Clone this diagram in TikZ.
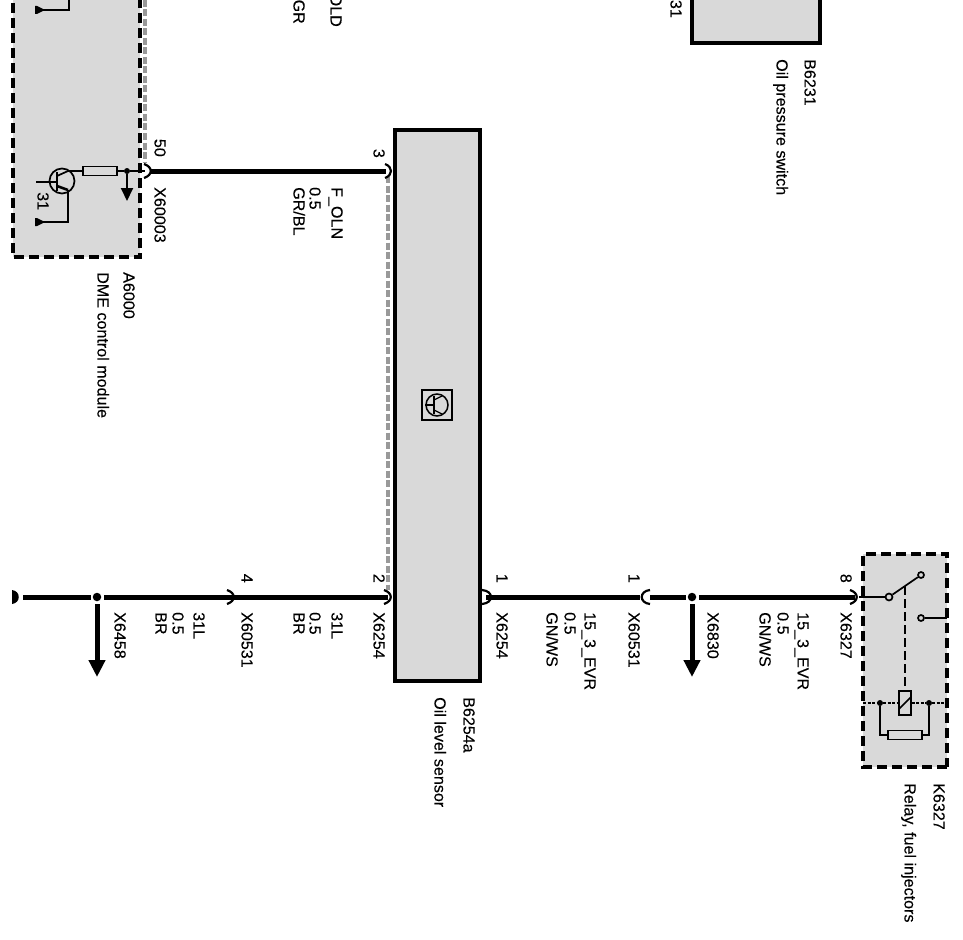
\documentclass[tikz,border=0pt]{standalone}
\usepackage{fontspec}
\setmainfont{Liberation Sans}
\newfontfamily\lblfont[FakeBold=0.15]{Liberation Sans}
\usetikzlibrary{arrows.meta}
\definecolor{panel}{gray}{0.85}
\tikzset{
  x=1pt,y=-1pt,
  lbl/.style={rotate=-90,anchor=west,inner sep=0pt,font=\lblfont\fontsize{16.1}{18}\selectfont,text height=11pt,text depth=0pt,yshift=2pt},
  pinnum/.style={rotate=-90,anchor=east,inner sep=0pt,font=\lblfont\fontsize{16.1}{18}\selectfont,text height=11pt,text depth=0pt,yshift=2pt},
  part/.style={draw=black,line width=4pt,fill=panel},
  module/.style={draw=black,line width=3.5pt,fill=panel,dash pattern=on 10pt off 5pt},
  wire/.style={draw=black,line width=5pt},
  thin wire/.style={draw=black,line width=1.7pt},
  shield/.style={draw=black!40,line width=3.2pt,dash pattern=on 7pt off 2.5pt},
  pin/.style={draw=black,line width=2.2pt},
  groundarrow/.style={draw=black,line width=2pt,-{Triangle[length=13pt,width=12pt]}},
  bigarrow/.style={draw=black,line width=5pt,-{Triangle[length=17pt,width=16pt]}},
  junction/.style={circle,fill=black,inner sep=0pt,minimum size=#1},
  pt/.style={inner sep=0pt,minimum size=0pt},
  smallbox/.style={draw=black,line width=1.7pt,fill=panel,inner sep=0pt},
}
\begin{document}
\begin{tikzpicture}
\useasboundingbox (0,0) rectangle (963,939);
\clip (0,0) rectangle (963,939);
\fill[white] (0,0) rectangle (963,939);

% panels
\draw[module] (13,-12) rectangle (140,257);
\draw[part] (692,-10) rectangle (820,43);
\draw[part] (395,130) rectangle (480,681);
\fill[panel] (863,554) rectangle (947,767);
\draw[module] (947,767) -- (863,767) -- (863,554) -- (947,554) -- cycle;

% shields
\draw[shield] (145,0) -- (145,163);
\draw[shield] (388,176) -- (388,590);

% pin anchors
\node[pt] (p50) at (150,171) {};
\node[pt] (p3) at (386,171) {};
\node[pt] (p2) at (388,597) {};
\node[pt] (p4a) at (234,597) {};
\node[pt] (p1a) at (486,597) {};
\node[pt] (p1b) at (640,597) {};
\node[pt] (p1c) at (650,597) {};
\node[pt] (p8) at (855,597) {};
\node[junction=8.5pt] (j1) at (97,597) {};
\node[junction=8.5pt] (j2) at (692,597) {};
\node[pt] (leftend) at (23,597) {};
\coordinate (a1) at (97,677);
\coordinate (a2) at (692,677);

% wires
\draw[wire] (p50) -- (p3);
\draw[wire] (leftend) -- (91,597);
\draw[wire] (104,597) -- (p4a);
\draw[wire] (p4a) -- (p2);
\draw[wire] (p1a) -- (p1b);
\draw[wire] (p1c) -- (686,597);
\draw[wire] (699,597) -- (p8);
\draw[bigarrow] (97,604) -- (a1);
\draw[bigarrow] (692,604) -- (a2);

% left terminal
\fill[black] (12,590) .. controls (21,591) and (21,603) .. (12,604) -- cycle;

% connector marks
\draw[pin] (144,164) .. controls (153,167) and (153,175) .. (144,178);
\draw[pin] (385,164) .. controls (393,167) and (393,175) .. (385,178);
\draw[pin] (227,590) .. controls (236,593) and (236,601) .. (227,604);
\draw[pin] (384,590) .. controls (393,593) and (393,601) .. (384,604);
\draw[pin] (482,590) .. controls (494,591) and (494,603) .. (482,604);
\draw[pin] (650,590) .. controls (639,591) and (639,603) .. (650,604);
\draw[pin] (850,590) .. controls (859,593) and (859,601) .. (850,604);

% DME internals
\node[circle,draw=black,line width=1.7pt,fill=panel,minimum size=25pt,inner sep=0pt] (tr) at (62,181) {};
\node[smallbox,minimum width=34pt,minimum height=9pt] (res) at (100,171) {};
\node[junction=6pt] (dj) at (127,171) {};
\coordinate (dme) at (145,171);
\coordinate (g1) at (127,201);
\coordinate (b1) at (36,182);
\coordinate (bb) at (57,182);
\coordinate (ec) at (68,171);
\coordinate (cc) at (68,190);
\draw[thin wire] (ec) -- (res);
\draw[thin wire] (res) -- (dj) -- (dme);
\draw[groundarrow] (dj) -- (g1);
\draw[thin wire] (b1) -- (bb);
\draw[line width=2.2pt] (57,172) -- (57,191);
\draw[thin wire] (57,176) -- (ec);
\draw[line width=2.6pt] (57,186) -- (cc);
\draw[line width=2pt] (cc) -- (68,222) -- (41,222);
\fill[black] (35,218) -- (35,226) -- (37,226) -- (45,222) -- (37,218) -- cycle;
\draw[line width=2pt] (69,0) -- (69,10) -- (41,10);
\fill[black] (35,6) -- (35,14) -- (37,14) -- (45,10) -- (37,6) -- cycle;

% sensor icon
\node[draw=black,line width=1.7pt,minimum size=30pt,inner sep=0pt] (icon) at (437,405) {};
\node[circle,draw=black,line width=1.5pt,minimum size=22pt,inner sep=0pt] (iconc) at (437,405) {};
\draw[line width=1.3pt] (iconc.west) -- (434,405);
\draw[line width=1.6pt] (434,396) -- (434,414);
\draw[line width=1.3pt] (434,400) -- (442,396);
\draw[line width=1.3pt] (434,410) -- (442,414);

% relay internals
\node[circle,draw=black,line width=1.7pt,fill=panel,minimum size=7pt,inner sep=0pt] (c0) at (889,597) {};
\node[circle,draw=black,line width=1.7pt,fill=panel,minimum size=6pt,inner sep=0pt] (c1) at (921,575) {};
\node[circle,draw=black,line width=1.7pt,fill=panel,minimum size=6pt,inner sep=0pt] (c2) at (921,618) {};
\node[smallbox,minimum width=12pt,minimum height=24pt] (coil) at (905,703) {};
\node[smallbox,minimum width=34pt,minimum height=9pt] (rr) at (905,735) {};
\node[junction=6pt] (d1) at (880,703) {};
\node[junction=6pt] (d2) at (929,703) {};
\coordinate (rel) at (859,597);
\coordinate (relout) at (947,618);
\coordinate (arm) at (905,586);
\draw[thin wire] (rel) -- (c0);
\draw[thin wire] (c0) -- (c1);
\draw[thin wire] (c2) -- (relout);
\draw[line width=1.7pt,dash pattern=on 9pt off 4pt] (arm) -- (coil.north);
\draw[line width=2pt,dash pattern=on 3pt off 1.5pt] (863,703) -- (d1);
\draw[line width=2pt,dash pattern=on 3pt off 1.5pt] (d1) -- (coil);
\draw[line width=2pt,dash pattern=on 3pt off 1.5pt] (coil) -- (d2);
\draw[line width=2pt,dash pattern=on 3pt off 1.5pt] (d2) -- (947,703);
\draw[line width=1.5pt] (899,709) -- (911,697);
\draw[thin wire] (d1) -- (880,735) -- (rr);
\draw[thin wire] (rr) -- (929,735) -- (d2);

% pin numbers
\node[pinnum] (n50) at (158,157) {50};
\node[pinnum] (n3) at (377,158) {3};
\node[pinnum] (n4) at (245,583) {4};
\node[pinnum] (n2) at (377,583) {2};
\node[pinnum] (n1a) at (500,583) {1};
\node[pinnum] (n1b) at (632,583) {1};
\node[pinnum] (n8) at (844,583) {8};
\node[lbl] (n31) at (41,192) {31};

% connector ids
\node[lbl] (x1) at (158,187) {X60003};
\node[lbl] (x2) at (118,612) {X6458};
\node[lbl] (x3) at (245,612) {X60531};
\node[lbl] (x4) at (377,612) {X6254};
\node[lbl] (x5) at (500,612) {X6254};
\node[lbl] (x6) at (632,612) {X60531};
\node[lbl] (x7) at (711,612) {X6830};
\node[lbl] (x8) at (844,612) {X6327};

% wire data
\node[lbl] (w1) at (335,187) {F\_OLN};
\node[lbl] (w2) at (313,187) {0.5};
\node[lbl] (w3) at (297,187) {GR/BL};
\node[lbl] (w4) at (197,612) {31L};
\node[lbl] (w5) at (176,612) {0.5};
\node[lbl] (w6) at (159,612) {BR};
\node[lbl] (w7) at (335,612) {31L};
\node[lbl] (w8) at (313,612) {0.5};
\node[lbl] (w9) at (297,612) {BR};
\node[lbl] (w10) at (588,612) {15\_3\_EVR};
\node[lbl] (w11) at (568,612) {0.5};
\node[lbl] (w12) at (550,612) {GN/WS};
\node[lbl] (w13) at (801,612) {15\_3\_EVR};
\node[lbl] (w14) at (781,612) {0.5};
\node[lbl] (w15) at (763,612) {GN/WS};
\node[pinnum] (t1) at (334,27) {OLD};
\node[pinnum] (t2) at (297,24) {GR};
\node[pinnum] (t3) at (674,18) {31};

% component names
\node[lbl] (c1a) at (127,272) {A6000};
\node[lbl] (c1b) at (101,272) {DME control module};
\node[lbl] (c2a) at (467,697) {B6254a};
\node[lbl] (c2b) at (438,697) {Oil level sensor};
\node[lbl] (c3a) at (808,59) {B6231};
\node[lbl] (c3b) at (780,59) {Oil pressure switch};
\node[lbl] (c4a) at (937,783) {K6327};
\node[lbl] (c4b) at (908,783) {Relay, fuel injectors};
\end{tikzpicture}
\end{document}
